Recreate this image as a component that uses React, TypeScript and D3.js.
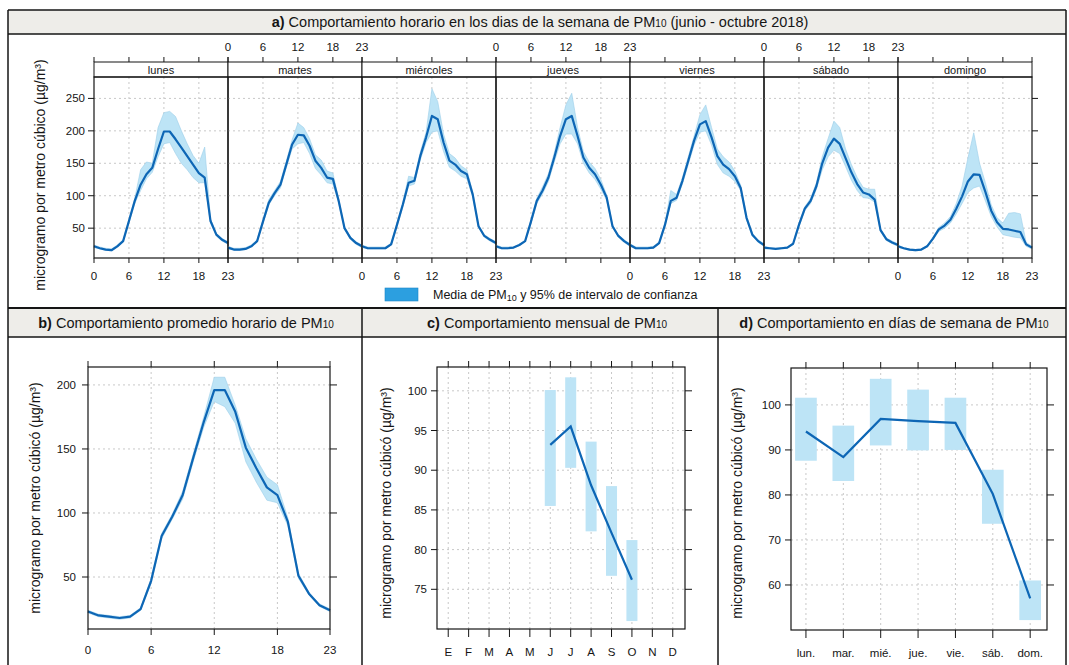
import * as d3 from 'd3'

// ---- panel a: hourly profile for each weekday (mean, lower CI, upper CI) ----
const DAYS = ['lunes', 'martes', 'miércoles', 'jueves', 'viernes', 'sábado', 'domingo']
const HOURS = d3.range(0, 24)

const LUN_MEAN = [22, 19, 17, 16, 22, 30, 61, 92, 117, 133, 143, 172, 199, 199, 187, 174, 161, 148, 135, 128, 61, 40, 32, 27]
const LUN_LO = [20, 18, 16, 15, 21, 29, 58, 88, 108, 126, 136, 160, 180, 182, 165, 150, 140, 128, 120, 120, 58, 38, 30, 25]
const LUN_HI = [24, 21, 19, 18, 24, 32, 64, 96, 140, 152, 150, 205, 228, 230, 222, 200, 180, 162, 150, 175, 64, 42, 34, 29]

const MAR_MEAN = [20, 17, 17, 18, 22, 30, 60, 89, 104, 117, 148, 179, 194, 193, 177, 154, 143, 128, 126, 92, 50, 35, 27, 22]
const MAR_LO = [18, 16, 16, 17, 21, 29, 57, 86, 100, 112, 143, 172, 180, 182, 165, 142, 132, 120, 118, 89, 48, 33, 25, 20]
const MAR_HI = [22, 19, 19, 20, 24, 32, 63, 94, 108, 122, 153, 186, 212, 205, 188, 163, 155, 138, 135, 95, 52, 37, 29, 24]

const MIE_MEAN = [22, 19, 19, 19, 19, 25, 55, 86, 120, 123, 161, 190, 223, 218, 182, 154, 148, 138, 133, 102, 53, 38, 32, 27]
const MIE_LO = [20, 18, 18, 18, 18, 24, 52, 82, 115, 118, 155, 182, 198, 200, 168, 144, 138, 130, 126, 98, 51, 36, 30, 25]
const MIE_HI = [24, 21, 21, 21, 21, 27, 58, 90, 130, 128, 167, 198, 265, 245, 195, 165, 158, 146, 140, 106, 55, 40, 34, 29]

const JUE_MEAN = [22, 19, 19, 20, 24, 30, 60, 92, 108, 128, 159, 192, 218, 223, 192, 159, 143, 133, 117, 97, 53, 38, 30, 24]
const JUE_LO = [20, 18, 18, 19, 23, 29, 57, 88, 103, 122, 152, 180, 195, 195, 180, 150, 135, 125, 110, 93, 51, 36, 28, 22]
const JUE_HI = [24, 21, 21, 21, 25, 31, 63, 96, 114, 134, 166, 205, 240, 258, 205, 168, 152, 142, 125, 101, 55, 40, 32, 26]

const VIE_MEAN = [24, 19, 19, 19, 20, 27, 55, 92, 97, 123, 154, 185, 210, 215, 190, 161, 148, 141, 130, 112, 66, 40, 30, 24]
const VIE_LO = [22, 18, 18, 18, 19, 26, 52, 88, 93, 118, 148, 178, 198, 200, 178, 148, 135, 130, 122, 108, 63, 38, 28, 22]
const VIE_HI = [26, 21, 21, 21, 22, 29, 58, 108, 102, 128, 160, 192, 225, 240, 205, 172, 160, 152, 138, 116, 69, 42, 32, 26]

const SAB_MEAN = [20, 19, 18, 19, 20, 26, 55, 80, 92, 115, 150, 174, 188, 180, 158, 136, 118, 105, 102, 94, 47, 33, 28, 24]
const SAB_LO = [18, 18, 17, 18, 19, 25, 52, 77, 88, 110, 140, 160, 170, 165, 145, 124, 108, 97, 96, 90, 45, 31, 26, 22]
const SAB_HI = [22, 20, 19, 20, 21, 27, 58, 83, 96, 120, 160, 188, 215, 205, 172, 148, 128, 113, 110, 110, 49, 35, 30, 26]

const DOM_MEAN = [22, 19, 17, 16, 17, 22, 34, 48, 54, 63, 80, 99, 122, 133, 132, 106, 77, 59, 49, 48, 46, 44, 25, 20]
const DOM_LO = [20, 18, 16, 15, 16, 21, 32, 45, 50, 58, 72, 88, 105, 112, 115, 92, 68, 52, 40, 38, 36, 35, 22, 18]
const DOM_HI = [24, 20, 18, 17, 18, 23, 36, 51, 58, 68, 88, 115, 158, 197, 150, 120, 86, 66, 58, 73, 74, 72, 28, 22]

// ---- panel b: average hourly profile ----
const AVG_MEAN = [23, 20, 19, 18, 19, 25, 47, 82, 97, 114, 143, 171, 196, 196, 179, 151, 135, 120, 114, 93, 51, 37, 28, 24]
const AVG_LO = [22, 19, 18, 17, 18, 24, 45, 80, 95, 111, 140, 167, 187, 183, 170, 140, 124, 110, 108, 90, 49, 36, 27, 23]
const AVG_HI = [24, 21, 20, 19, 20, 26, 49, 84, 99, 117, 146, 175, 206, 206, 184, 158, 142, 128, 122, 96, 53, 38, 29, 25]

// ---- panel c: monthly ----
const MONTHS = ['E', 'F', 'M', 'A', 'M', 'J', 'J', 'A', 'S', 'O', 'N', 'D']
const MONTH_IDX = [6, 7, 8, 9, 10]
const MONTH_MEAN = [93.2, 95.5, 88.1, 82.1, 76.2]
const MONTH_LO = [85.5, 90.3, 82.3, 76.7, 71.0]
const MONTH_HI = [100.1, 101.7, 93.6, 88.0, 81.2]

// ---- panel d: weekday ----
const WEEKDAYS = ['lun.', 'mar.', 'mié.', 'jue.', 'vie.', 'sáb.', 'dom.']
const WEEKDAY_MEAN = [94.1, 88.4, 96.9, 96.4, 96.0, 80.2, 57.0]
const WEEKDAY_LO = [87.6, 83.1, 91.0, 89.9, 90.0, 73.6, 52.2]
const WEEKDAY_HI = [101.6, 95.4, 105.8, 103.4, 101.6, 85.6, 61.0]

const A_YTICKS = [50, 100, 150, 200, 250]
const B_YTICKS = [50, 100, 150, 200]
const C_YTICKS = [75, 80, 85, 90, 95, 100]
const D_YTICKS = [60, 70, 80, 90, 100]
const HOUR_TICKS = [0, 6, 12, 18, 23]

const DAY_SERIES = [
  { mean: LUN_MEAN, lo: LUN_LO, hi: LUN_HI },
  { mean: MAR_MEAN, lo: MAR_LO, hi: MAR_HI },
  { mean: MIE_MEAN, lo: MIE_LO, hi: MIE_HI },
  { mean: JUE_MEAN, lo: JUE_LO, hi: JUE_HI },
  { mean: VIE_MEAN, lo: VIE_LO, hi: VIE_HI },
  { mean: SAB_MEAN, lo: SAB_LO, hi: SAB_HI },
  { mean: DOM_MEAN, lo: DOM_LO, hi: DOM_HI },
]

const FONT = "'Liberation Sans', Arial, Helvetica, sans-serif"
const LINE = '#0d66b5'
const BAND = '#bde4f6'
const BAND_EDGE = '#9ccfea'
const GRID = '#c8c8c8'
const INK = '#151515'
const BAR_BG = '#eeede9'
const TICK_FS = 11.5

function Title({ x, y, tag, text, sub, after = '' }) {
  return (
    <text x={x} y={y} textAnchor="middle" fontSize={14.5} fill={INK}>
      <tspan fontWeight="bold">{tag}</tspan> {text}
      <tspan fontSize={10}>{sub}</tspan>{after}
    </text>
  )
}

function YLabel({ x, y, text }) {
  return (
    <text transform={`translate(${x},${y}) rotate(-90)`} textAnchor="middle" fontSize={14} fill={INK}>
      {text}
    </text>
  )
}

export default function App() {
  // ---------- panel a ----------
  const A = { left: 94, panelW: 134, top: 77, bottom: 258, stripTop: 62 }
  const right = A.left + A.panelW * DAYS.length
  const yA = d3.scaleLinear().domain([4, 283]).range([A.bottom, A.top])

  const dayPanels = DAYS.map((day, i) => {
    const x0 = A.left + i * A.panelW
    const xs = d3.scaleLinear().domain([0, 23]).range([x0, x0 + A.panelW])
    const s = DAY_SERIES[i]
    const band = d3.area<number>().x(h => xs(h)).y0(h => yA(s.lo[h])).y1(h => yA(s.hi[h]))
    const line = d3.line<number>().x(h => xs(h)).y(h => yA(s.mean[h]))
    return (
      <g key={day}>
        {[6, 12, 18].map(t => (
          <line key={'v' + t} x1={xs(t)} x2={xs(t)} y1={A.top} y2={A.bottom} stroke={GRID} strokeDasharray="2,3" />
        ))}
        {A_YTICKS.map(t => (
          <line key={'h' + t} x1={x0} x2={x0 + A.panelW} y1={yA(t)} y2={yA(t)} stroke={GRID} strokeDasharray="2,3" />
        ))}
        <path d={band(HOURS)} fill={BAND} stroke={BAND_EDGE} strokeWidth={0.6} />
        <path d={line(HOURS)} fill="none" stroke={LINE} strokeWidth={2.2} strokeLinejoin="round" />
        <rect x={x0} y={A.stripTop} width={A.panelW} height={A.top - A.stripTop} fill="#fff" stroke={INK} strokeWidth={1} />
        <text x={x0 + A.panelW / 2} y={A.stripTop + 11.5} textAnchor="middle" fontSize={11} fill={INK}>{day}</text>
        <rect x={x0} y={A.top} width={A.panelW} height={A.bottom - A.top} fill="none" stroke={INK} strokeWidth={1.2} />
        {HOUR_TICKS.map(t => (
          <g key={'t' + t}>
            <line x1={xs(t)} x2={xs(t)} y1={A.stripTop} y2={A.stripTop - 5} stroke={INK} />
            <line x1={xs(t)} x2={xs(t)} y1={A.bottom} y2={A.bottom + 5} stroke={INK} />
            {i % 2 === 0
              ? <text x={xs(t)} y={A.bottom + 22} textAnchor="middle" fontSize={TICK_FS} fill={INK}>{t}</text>
              : <text x={xs(t)} y={A.stripTop - 11} textAnchor="middle" fontSize={TICK_FS} fill={INK}>{t}</text>}
          </g>
        ))}
      </g>
    )
  })

  // ---------- panel b ----------
  const B = { left: 88, right: 330, top: 367, bottom: 629 }
  const xB = d3.scaleLinear().domain([0, 23]).range([B.left, B.right])
  const yB = d3.scaleLinear().domain([9.4, 214]).range([B.bottom, B.top])
  const bandB = d3.area<number>().x(h => xB(h)).y0(h => yB(AVG_LO[h])).y1(h => yB(AVG_HI[h]))
  const lineB = d3.line<number>().x(h => xB(h)).y(h => yB(AVG_MEAN[h]))

  // ---------- panel c ----------
  const C = { left: 437, right: 685, top: 367, bottom: 629 }
  const xC = d3.scaleLinear().domain([0.45, 12.6]).range([C.left, C.right])
  const yC = d3.scaleLinear().domain([70, 103]).range([C.bottom, C.top])
  const lineC = d3.line<number>().x((_, i) => xC(MONTH_IDX[i])).y(v => yC(v))

  // ---------- panel d ----------
  const D = { left: 791, right: 1047, top: 368, bottom: 630 }
  const xD = d3.scaleLinear().domain([0.6, 7.45]).range([D.left, D.right])
  const yD = d3.scaleLinear().domain([50, 108.2]).range([D.bottom, D.top])
  const lineD = d3.line<number>().x((_, i) => xD(i + 1)).y(v => yD(v))

  const frame = { l: 8, r: 1066, t: 10 }
  const divC = 362
  const divD = 718

  return (
    <div style={{ position: 'absolute', left: 0, top: 0 }}>
      <svg width={1069} height={665} style={{ display: 'block', background: '#fff' }} fontFamily={FONT}>
        {/* frames and title bars */}
        <rect x={frame.l} y={frame.t} width={frame.r - frame.l} height={24} fill={BAR_BG} />
        <rect x={frame.l} y={309} width={frame.r - frame.l} height={28} fill={BAR_BG} />
        <line x1={frame.l} x2={frame.r} y1={frame.t} y2={frame.t} stroke={INK} strokeWidth={1.5} />
        <line x1={frame.l} x2={frame.r} y1={34} y2={34} stroke={INK} strokeWidth={1.5} />
        <line x1={frame.l} x2={frame.r} y1={308} y2={308} stroke={INK} strokeWidth={2} />
        <line x1={frame.l} x2={frame.r} y1={337} y2={337} stroke={INK} strokeWidth={1.5} />
        <line x1={frame.l} x2={frame.l} y1={frame.t} y2={665} stroke={INK} strokeWidth={1.5} />
        <line x1={frame.r} x2={frame.r} y1={frame.t} y2={665} stroke={INK} strokeWidth={1.5} />
        <line x1={divC} x2={divC} y1={308} y2={665} stroke={INK} strokeWidth={1.5} />
        <line x1={divD} x2={divD} y1={308} y2={665} stroke={INK} strokeWidth={1.5} />

        <Title x={540} y={27} tag="a)" text="Comportamiento horario en los dias de la semana de PM" sub="10" after="  (junio - octubre 2018)" />
        <Title x={186} y={328} tag="b)" text="Comportamiento promedio horario de PM" sub="10" />
        <Title x={547} y={328} tag="c)" text="Comportamiento mensual de PM" sub="10" />
        <Title x={894} y={328} tag="d)" text="Comportamiento en días de semana de PM" sub="10" />

        {/* panel a */}
        {dayPanels}
        {A_YTICKS.map(t => (
          <g key={'ay' + t}>
            <line x1={A.left} x2={A.left - 6} y1={yA(t)} y2={yA(t)} stroke={INK} />
            <text x={A.left - 9} y={yA(t) + 4} textAnchor="end" fontSize={TICK_FS} fill={INK}>{t}</text>
            <line x1={right} x2={right + 6} y1={yA(t)} y2={yA(t)} stroke={INK} />
          </g>
        ))}
        <YLabel x={45} y={175} text="microgramo por metro cúbico (µg/m³)" />
        <rect x={385} y={288} width={33} height={13} fill="#2c9fe0" stroke="#1d86c8" strokeWidth={0.6} />
        <text x={433} y={299} fontSize={12.5} fill={INK}>
          Media de PM<tspan fontSize={9} dy={2}>10</tspan><tspan dy={-2}> y 95% de intervalo de confianza</tspan>
        </text>

        {/* panel b */}
        {[6, 12, 18].map(t => (
          <line key={'bv' + t} x1={xB(t)} x2={xB(t)} y1={B.top} y2={B.bottom} stroke={GRID} strokeDasharray="2,3" />
        ))}
        {B_YTICKS.map(t => (
          <line key={'bh' + t} x1={B.left} x2={B.right} y1={yB(t)} y2={yB(t)} stroke={GRID} strokeDasharray="2,3" />
        ))}
        <path d={bandB(HOURS)} fill={BAND} stroke={BAND_EDGE} strokeWidth={0.6} />
        <path d={lineB(HOURS)} fill="none" stroke={LINE} strokeWidth={2.2} strokeLinejoin="round" />
        <rect x={B.left} y={B.top} width={B.right - B.left} height={B.bottom - B.top} fill="none" stroke={INK} strokeWidth={1.2} />
        {HOUR_TICKS.map(t => (
          <g key={'bx' + t}>
            <line x1={xB(t)} x2={xB(t)} y1={B.top} y2={B.top - 6} stroke={INK} />
            <line x1={xB(t)} x2={xB(t)} y1={B.bottom} y2={B.bottom + 6} stroke={INK} />
            <text x={xB(t)} y={B.bottom + 25} textAnchor="middle" fontSize={TICK_FS} fill={INK}>{t}</text>
          </g>
        ))}
        {B_YTICKS.map(t => (
          <g key={'by' + t}>
            <line x1={B.left} x2={B.left - 6} y1={yB(t)} y2={yB(t)} stroke={INK} />
            <line x1={B.right} x2={B.right + 7} y1={yB(t)} y2={yB(t)} stroke={INK} />
            <text x={B.left - 12} y={yB(t) + 4} textAnchor="end" fontSize={TICK_FS} fill={INK}>{t}</text>
          </g>
        ))}
        <YLabel x={40} y={498} text="microgramo por metro cúbicó (µg/m³)" />

        {/* panel c */}
        {MONTHS.map((m, i) => (
          <line key={'cv' + i} x1={xC(i + 1)} x2={xC(i + 1)} y1={C.top} y2={C.bottom} stroke={GRID} strokeDasharray="2,3" />
        ))}
        {C_YTICKS.map(t => (
          <line key={'ch' + t} x1={C.left} x2={C.right} y1={yC(t)} y2={yC(t)} stroke={GRID} strokeDasharray="2,3" />
        ))}
        {MONTH_IDX.map((m, i) => (
          <rect key={'cb' + m} x={xC(m - 0.27)} y={yC(MONTH_HI[i])} width={xC(m + 0.27) - xC(m - 0.27)}
            height={yC(MONTH_LO[i]) - yC(MONTH_HI[i])} fill={BAND} />
        ))}
        <path d={lineC(MONTH_MEAN)} fill="none" stroke={LINE} strokeWidth={2.2} />
        <rect x={C.left} y={C.top} width={C.right - C.left} height={C.bottom - C.top} fill="none" stroke={INK} strokeWidth={1.2} />
        {MONTHS.map((m, i) => (
          <g key={'cx' + i}>
            <line x1={xC(i + 1)} x2={xC(i + 1)} y1={C.top} y2={C.top - 6} stroke={INK} />
            <line x1={xC(i + 1)} x2={xC(i + 1)} y1={C.bottom} y2={C.bottom + 8} stroke={INK} />
            <text x={xC(i + 1)} y={C.bottom + 27} textAnchor="middle" fontSize={TICK_FS} fill={INK}>{m}</text>
          </g>
        ))}
        {C_YTICKS.map(t => (
          <g key={'cy' + t}>
            <line x1={C.left} x2={C.left - 6} y1={yC(t)} y2={yC(t)} stroke={INK} />
            <line x1={C.right} x2={C.right + 7} y1={yC(t)} y2={yC(t)} stroke={INK} />
            <text x={C.left - 10} y={yC(t) + 4} textAnchor="end" fontSize={TICK_FS} fill={INK}>{t}</text>
          </g>
        ))}
        <YLabel x={391} y={503} text="microgramo por metro cúbicó (µg/m³)" />

        {/* panel d */}
        {WEEKDAYS.map((w, i) => (
          <line key={'dv' + i} x1={xD(i + 1)} x2={xD(i + 1)} y1={D.top} y2={D.bottom} stroke={GRID} strokeDasharray="2,3" />
        ))}
        {D_YTICKS.map(t => (
          <line key={'dh' + t} x1={D.left} x2={D.right} y1={yD(t)} y2={yD(t)} stroke={GRID} strokeDasharray="2,3" />
        ))}
        {WEEKDAYS.map((w, i) => (
          <rect key={'db' + i} x={xD(i + 1 - 0.29)} y={yD(WEEKDAY_HI[i])} width={xD(i + 1.29) - xD(i + 0.71)}
            height={yD(WEEKDAY_LO[i]) - yD(WEEKDAY_HI[i])} fill={BAND} />
        ))}
        <path d={lineD(WEEKDAY_MEAN)} fill="none" stroke={LINE} strokeWidth={2.2} />
        <rect x={D.left} y={D.top} width={D.right - D.left} height={D.bottom - D.top} fill="none" stroke={INK} strokeWidth={1.2} />
        {WEEKDAYS.map((w, i) => (
          <g key={'dx' + i}>
            <line x1={xD(i + 1)} x2={xD(i + 1)} y1={D.top} y2={D.top - 6} stroke={INK} />
            <line x1={xD(i + 1)} x2={xD(i + 1)} y1={D.bottom} y2={D.bottom + 8} stroke={INK} />
            <text x={xD(i + 1)} y={D.bottom + 27} textAnchor="middle" fontSize={TICK_FS} fill={INK}>{w}</text>
          </g>
        ))}
        {D_YTICKS.map(t => (
          <g key={'dy' + t}>
            <line x1={D.left} x2={D.left - 6} y1={yD(t)} y2={yD(t)} stroke={INK} />
            <line x1={D.right} x2={D.right + 7} y1={yD(t)} y2={yD(t)} stroke={INK} />
            <text x={D.left - 10} y={yD(t) + 4} textAnchor="end" fontSize={TICK_FS} fill={INK}>{t}</text>
          </g>
        ))}
        <YLabel x={742} y={503} text="microgramo por metro cúbicó (µg/m³)" />
      </svg>
    </div>
  )
}
